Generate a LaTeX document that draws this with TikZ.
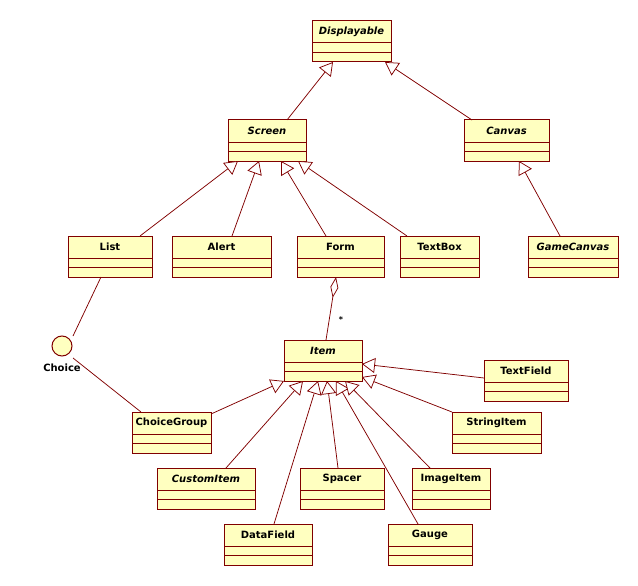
\documentclass[tikz,border=0pt]{standalone}
\usepackage{fontspec}
\setmainfont{DejaVu Sans}
\usetikzlibrary{arrows.meta,calc}
\definecolor{umlred}{HTML}{800000}
\definecolor{umlfill}{HTML}{FFFFC0}
\tikzset{
 cls/.style={draw=umlred, fill=umlfill, line width=1pt, minimum height=41pt, anchor=north west, inner sep=0pt, outer sep=0pt},
 clstext/.style={font=\fontsize{10}{12}\selectfont\bfseries, inner sep=0pt},
 sep/.style={draw=umlred, line width=1pt},
 gen/.style={draw=umlred, line width=0.75pt, -{Triangle[open, length=13pt, width=15pt, fill=white]}},
 assoc/.style={draw=umlred, line width=0.75pt},
}
\newcommand\umlclass[5]{%
  \node[cls, minimum width=#4pt] (#1) at (#2,#3) {};
  \node[clstext] (#1-name) at ([yshift=-11pt]#1.north) {#5};
  \draw[sep] ([yshift=-22pt]#1.north west) -- ([yshift=-22pt]#1.north east);
  \draw[sep] ([yshift=-31.5pt]#1.north west) -- ([yshift=-31.5pt]#1.north east);
}
\begin{document}
\begin{tikzpicture}[x=1pt,y=-1pt]
\useasboundingbox (0,0) rectangle (638,586);
\umlclass{displayable}{312}{21}{79}{\itshape Displayable}
\umlclass{screen}{228}{120}{78}{\itshape Screen}
\umlclass{canvas}{464}{120}{85}{\itshape Canvas}
\umlclass{list}{68}{236}{84}{List}
\umlclass{alert}{172}{236}{99}{Alert}
\umlclass{form}{297}{236}{87}{Form}
\umlclass{textbox}{400}{236}{79}{TextBox}
\umlclass{gamecanvas}{528}{236}{90}{\itshape GameCanvas}
\umlclass{item}{284}{340}{78}{\itshape Item}
\umlclass{textfield}{484}{360}{84}{TextField}
\umlclass{choicegroup}{132}{412}{79}{ChoiceGroup}
\umlclass{stringitem}{452}{412}{89}{StringItem}
\umlclass{customitem}{157}{468}{98}{\itshape CustomItem}
\umlclass{spacer}{300}{468}{84}{Spacer}
\umlclass{imageitem}{412}{468}{78}{ImageItem}
\umlclass{datafield}{224}{524}{88}{DataField}
\umlclass{gauge}{388}{524}{84}{Gauge}

\node[circle, draw=umlred, fill=umlfill, minimum size=20pt, inner sep=0pt, line width=1pt] (choice) at (62,346) {};
\node[clstext] (choicelbl) at (62,368) {Choice};
\node[font=\fontsize{8}{9}\selectfont\bfseries, inner sep=0pt] (mult) at (341,320) {*};

% generalizations
\draw[gen] ([xshift=59pt]screen.north west) -- ([xshift=21pt]displayable.south west);
\draw[gen] ([xshift=8pt]canvas.north west) -- ([xshift=73pt]displayable.south west);
\draw[gen] ([xshift=72pt]list.north west) -- ([xshift=10pt]screen.south west);
\draw[gen] ([xshift=60pt]alert.north west) -- ([xshift=31pt]screen.south west);
\draw[gen] ([xshift=29pt]form.north west) -- ([xshift=53pt]screen.south west);
\draw[gen] ([xshift=7pt]textbox.north west) -- ([xshift=70pt]screen.south west);
\draw[gen] ([xshift=32pt]gamecanvas.north west) -- ([xshift=55pt]canvas.south west);

\draw[gen] ([yshift=-2pt]choicegroup.north east) -- (item.south west);
\draw[gen] ([xshift=69pt]customitem.north west) -- ([xshift=19pt]item.south west);
\draw[gen] ([xshift=50pt]datafield.north west) -- ([xshift=34pt]item.south west);
\draw[gen] ([xshift=38pt]spacer.north west) -- ([xshift=43pt]item.south west);
\draw[gen] ([xshift=30pt]gauge.north west) -- ([xshift=52pt]item.south west);
\draw[gen] ([xshift=18pt]imageitem.north west) -- ([xshift=61pt]item.south west);
\draw[gen] (stringitem.north west) -- ([yshift=4pt]item.south east);
\draw[gen] ([yshift=-18pt]textfield.north west) -- ([yshift=-24pt]item.north east);

% aggregation
\draw[assoc, {Diamond[open, length=21pt, width=8pt, fill=white]}-] ([xshift=39pt]form.south west) -- ([xshift=42pt]item.north west);

% interface links
\draw[assoc] ([xshift=33pt]list.south west) -- ([xshift=11pt,yshift=10pt]choice.center);
\draw[assoc] ([xshift=11pt,yshift=-12pt]choice.center) -- ([xshift=9pt]choicegroup.north west);
\end{tikzpicture}
\end{document}
